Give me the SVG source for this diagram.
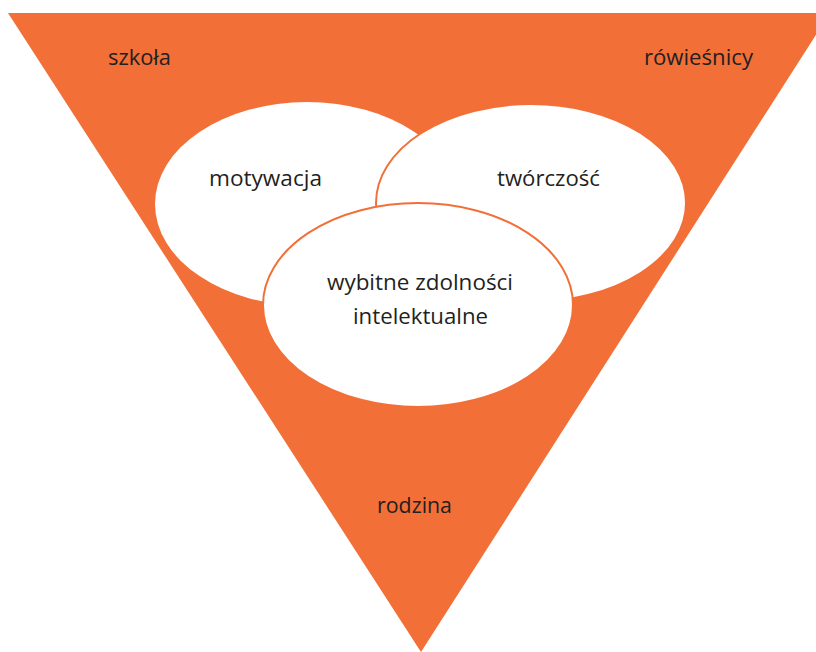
<svg xmlns="http://www.w3.org/2000/svg" width="816" height="652" viewBox="0 0 816 652">
  <style>
    .bg { fill: #ffffff; }
    .field { fill: #F26F37; }
    .oval { fill: #ffffff; stroke: #F26F37; stroke-width: 2; }
    .lbl { font-family: "Open Sans", "Noto Sans", "Liberation Sans", sans-serif; font-size: 22px; fill: #231F20; text-anchor: middle; }
  </style>
  <rect class="bg" x="0" y="0" width="816" height="652"/>

  <!-- surrounding environment: inverted triangle -->
  <g id="environment">
    <polygon class="field" points="8,13 830,13 421,652"/>
    <text class="lbl" x="139.5" y="65" textLength="63" lengthAdjust="spacingAndGlyphs">szkoła</text>
    <text class="lbl" x="698.5" y="65" textLength="109" lengthAdjust="spacingAndGlyphs">rówieśnicy</text>
    <text class="lbl" x="414.5" y="513" textLength="75" lengthAdjust="spacingAndGlyphs">rodzina</text>
  </g>

  <g id="motywacja">
    <ellipse cx="307" cy="204" rx="152" ry="102" fill="#ffffff"/>
    <text class="lbl" x="265.5" y="186" textLength="113" lengthAdjust="spacingAndGlyphs">motywacja</text>
  </g>

  <g id="tworczosc">
    <ellipse class="oval" cx="531" cy="203" rx="155" ry="99"/>
    <text class="lbl" x="548.5" y="186" textLength="103" lengthAdjust="spacingAndGlyphs">twórczość</text>
  </g>

  <g id="zdolnosci">
    <ellipse class="oval" cx="418" cy="305" rx="155" ry="102"/>
    <text class="lbl" x="420" y="290" textLength="186" lengthAdjust="spacingAndGlyphs">wybitne zdolności</text>
    <text class="lbl" x="420.5" y="324" textLength="135" lengthAdjust="spacingAndGlyphs">intelektualne</text>
  </g>

  <g id="connectors"/>
</svg>
